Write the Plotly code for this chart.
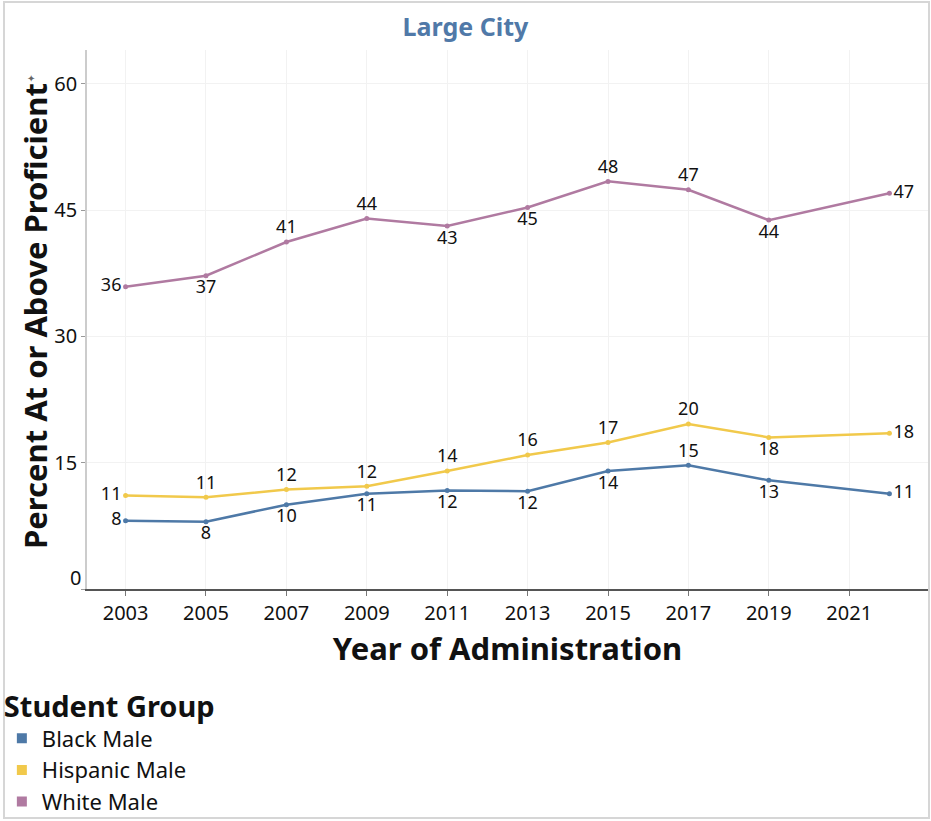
import plotly.graph_objects as go

years = [2003, 2005, 2007, 2009, 2011, 2013, 2015, 2017, 2019, 2022]
groups = ["Black Male", "Hispanic Male", "White Male"]
colors = ["#4e79a7", "#f1c94b", "#b07aa1"]

black = [8.1, 8.0, 10.0, 11.3, 11.7, 11.6, 14.0, 14.7, 12.9, 11.3]
hispanic = [11.1, 10.9, 11.8, 12.2, 14.0, 15.9, 17.4, 19.6, 18.0, 18.5]
white = [35.9, 37.2, 41.2, 44.0, 43.1, 45.3, 48.4, 47.4, 43.8, 47.0]

black_lbl = [8, 8, 10, 11, 12, 12, 14, 15, 13, 11]
hispanic_lbl = [11, 11, 12, 12, 14, 16, 17, 20, 18, 18]
white_lbl = [36, 37, 41, 44, 43, 45, 48, 47, 44, 47]

y_ticks = [0, 15, 30, 45, 60]
x_ticks = [2003, 2005, 2007, 2009, 2011, 2013, 2015, 2017, 2019, 2021]

L, T, B, R = "middle left", "top center", "bottom center", "middle right"
black_pos = [L, B, B, B, B, B, B, T, B, R]
hispanic_pos = [L, T, T, T, T, T, T, T, B, R]
white_pos = [L, B, T, T, B, B, T, T, B, R]

series = [(black, black_lbl, black_pos), (hispanic, hispanic_lbl, hispanic_pos),
          (white, white_lbl, white_pos)]

fig = go.Figure()

for name, color, (vals, lbls, pos) in zip(groups, colors, series):
    fig.add_trace(go.Scatter(
        x=years, y=vals, mode="lines+markers+text", name=name,
        line=dict(color=color, width=2.5),
        marker=dict(color=color, size=5),
        text=[str(v) for v in lbls], textposition=pos,
        textfont=dict(family="Noto Sans", size=18, color="#111"),
        showlegend=False, hoverinfo="skip", cliponaxis=False,
    ))

# legend swatches (squares, like the original)
for name, color in zip(groups, colors):
    fig.add_trace(go.Scatter(
        x=[None], y=[None], mode="markers", name=name,
        marker=dict(color=color, size=10, symbol="square"),
    ))

fig.update_layout(
    width=931, height=821,
    margin=dict(l=87, r=3, t=50, b=232, autoexpand=False),
    paper_bgcolor="white", plot_bgcolor="white",
    font=dict(family="Noto Sans", color="#111"),
    title=dict(text="<b>Large City</b>", x=0.5, xref="container", xanchor="center",
               y=0.967, yref="container", yanchor="middle",
               font=dict(size=25, color="#5079a8")),
    legend=dict(
        title=dict(text="<b>Student Group</b>", font=dict(size=29)),
        font=dict(size=22),
        bgcolor="rgba(0,0,0,0)",
        xref="container", yref="container", x=0.002, y=0.172,
        xanchor="left", yanchor="top", tracegroupgap=0, itemwidth=30,
    ),
    shapes=[dict(type="rect", xref="paper", yref="paper",
                 x0=(4 - 87) / 841, x1=(929 - 87) / 841,
                 y0=(589 - 818) / 539, y1=(589 - 2) / 539,
                 line=dict(color="#d6d6d6", width=2), layer="below")],
    annotations=[dict(text="<b>Percent At or Above Proficient</b>", textangle=-90,
                      xref="paper", yref="paper", x=(35 - 87) / 841, y=(589 - 316) / 539,
                      xanchor="center", yanchor="middle", showarrow=False,
                      font=dict(size=31, color="#111")),
                 dict(text="✦", xref="paper", yref="paper",
                      x=(31 - 87) / 841, y=(589 - 78) / 539, showarrow=False,
                      xanchor="center", yanchor="middle",
                      font=dict(size=10, color="#666")),
                 # Tableau nudges the bottom tick label up inside the pane
                 dict(text=str(y_ticks[0]), xref="paper", yref="paper",
                      x=(83 - 87) / 841, y=(589 - 577) / 539, showarrow=False,
                      xanchor="right", yanchor="middle",
                      font=dict(size=20, color="#111"))],
)

fig.update_xaxes(
    range=[2002.04, 2022.96],
    tickvals=x_ticks,
    tickfont=dict(size=20),
    showgrid=True, gridcolor="#f2f2f2",
    showline=True, linecolor="#555", linewidth=1.5,
    ticks="outside", ticklen=5, tickcolor="#777", zeroline=False,
    title=dict(text="<b>Year of Administration</b>", font=dict(size=31), standoff=14),
)
fig.update_yaxes(
    range=[0, 64],
    tickvals=y_ticks,
    ticktext=[""] + [str(v) for v in y_ticks[1:]],
    tickfont=dict(size=20),
    showgrid=True, gridcolor="#f2f2f2",
    showline=True, linecolor="#cccccc", linewidth=1.5,
    ticks="outside", ticklen=4, tickcolor="#999", zeroline=False,
)

fig.write_html("out.html", config={"displayModeBar": False},
               post_script="document.body.style.margin='0';")
